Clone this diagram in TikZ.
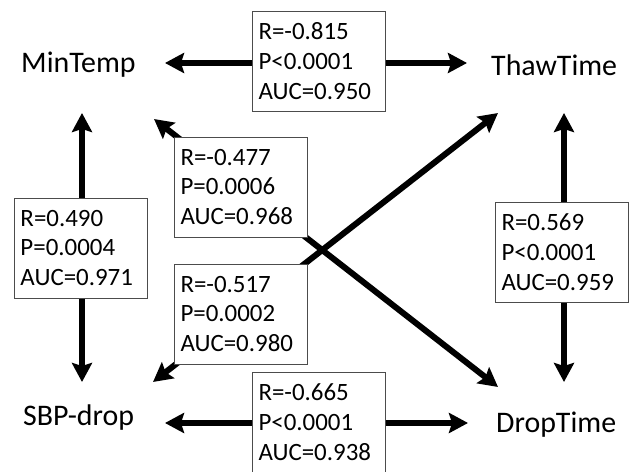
\documentclass[tikz,border=0pt]{standalone}
\usepackage{fontspec}
\setmainfont{Carlito}
\usetikzlibrary{arrows.meta}
\begin{document}
\begin{tikzpicture}[x=1bp,y=-1bp,
  lbl/.style={font=\fontsize{30}{35}\selectfont, inner sep=0pt, anchor=base west},
  stat/.style={draw=black!70, line width=0.9bp, fill=white, font=\fontsize{25}{30}\selectfont, align=left, text width=121bp, inner xsep=6bp, inner ysep=0pt, minimum height=100bp},
  tip/.tip={Stealth[length=19bp,width=20bp,inset=3bp]},
  conn/.style={line width=6bp, tip-tip}]
\useasboundingbox (0,0) rectangle (636,472);
% labels
\node[lbl] (MinTemp) at (21,73) {MinTemp};
\node[lbl] (ThawTime) at (491,76) {ThawTime};
\node[lbl] (SBPdrop) at (23,425) {SBP-drop};
\node[lbl] (DropTime) at (496,432) {DropTime};
% arrow end points
\coordinate (tL) at (165,63);  \coordinate (tR) at (467,63);
\coordinate (bL) at (165,423); \coordinate (bR) at (468,423);
\coordinate (lT) at (82,113);  \coordinate (lB) at (82,382);
\coordinate (rT) at (564,113); \coordinate (rB) at (564,382);
\coordinate (d1a) at (154,119); \coordinate (d1b) at (498,387);
\coordinate (d2a) at (153,382); \coordinate (d2b) at (498,113);
% connectors
\draw[conn] (tL) -- (tR);
\draw[conn] (bL) -- (bR);
\draw[conn] (lT) -- (lB);
\draw[conn] (rT) -- (rB);
\draw[conn] (d1a) -- (d1b);
\draw[conn] (d2a) -- (d2b);
% statistic boxes
\node[stat] (sTop) at (319,61) {R=-0.815\\P<0.0001\\AUC=0.950};
\node[stat] (sLeft) at (81,248) {R=0.490\\P=0.0004\\AUC=0.971};
\node[stat] (sRight) at (562,252) {R=0.569\\P<0.0001\\AUC=0.959};
\node[stat] (sA) at (241,187) {R=-0.477\\P=0.0006\\AUC=0.968};
\node[stat] (sB) at (241,314) {R=-0.517\\P=0.0002\\AUC=0.980};
\node[stat] (sBot) at (319,422) {R=-0.665\\P<0.0001\\AUC=0.938};
\end{tikzpicture}
\end{document}
